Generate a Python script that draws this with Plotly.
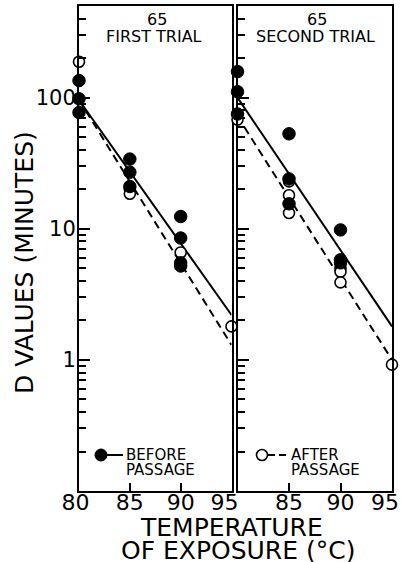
import plotly.graph_objects as go

# ---- data ----
# First trial
t1_before = [80, 80, 80, 85, 85, 85, 90, 90, 90, 90]
d1_before = [135, 98, 77, 34, 27, 21, 12.4, 8.5, 5.5, 5.2]
t1_after = [80, 85, 85, 90, 95]
d1_after = [188, 20, 18.5, 6.6, 1.8]
# Second trial
t2_before = [80, 80, 80, 85, 85, 85, 90, 90, 90]
d2_before = [158, 111, 75, 53, 24, 15.5, 9.8, 5.8, 5.5]
t2_after = [80, 85, 85, 85, 90, 90, 90, 95]
d2_after = [68, 23, 18, 13.2, 5.0, 4.7, 3.9, 0.92]
# Regression lines (endpoints at 80 and 95 C)
fit_t = [80, 95]
fit1_before = [96, 2.2]
fit1_after = [96, 1.3]
fit2_before = [100, 1.8]
fit2_after = [72, 1.0]

y_major = [1, 10, 100]
y_major_text = ["1", "10", "100"]
y_minor = [0.2, 0.3, 0.4, 0.5, 0.6, 0.7, 0.8, 0.9,
           2, 3, 4, 5, 6, 7, 8, 9,
           20, 30, 40, 50, 60, 70, 80, 90,
           200, 300, 400, 500]
x_ticks_left = [80, 85, 90, 95]
x_ticks_left_text = ["80\u00a0", "85", "90", "95\u00a0\u00a0"]
x_ticks_right = [85, 90, 95]
x_ticks_right_text = ["85", "90", "95\u00a0\u00a0"]

W, H = 404, 562
FONT = "DejaVu Sans"


def px(x):
    return x / W


def py(y):
    return 1 - y / H


fig = go.Figure()

solid = dict(color="black", width=2)
dashed = dict(color="black", width=2, dash="8px,5px")
filled_m = dict(size=12.5, color="black", line=dict(color="black", width=1))
open_m = dict(size=11, color="white", line=dict(color="black", width=1.6))

for xa, ya, fb, fa, ta, da, tb, db in [
    ("x", "y", fit1_before, fit1_after, t1_after, d1_after, t1_before, d1_before),
    ("x2", "y2", fit2_before, fit2_after, t2_after, d2_after, t2_before, d2_before),
]:
    fig.add_trace(go.Scatter(x=fit_t, y=fb, mode="lines", line=solid,
                             xaxis=xa, yaxis=ya, showlegend=False, cliponaxis=False))
    fig.add_trace(go.Scatter(x=fit_t, y=fa, mode="lines", line=dashed,
                             xaxis=xa, yaxis=ya, showlegend=False, cliponaxis=False))
    fig.add_trace(go.Scatter(x=ta, y=da, mode="markers", marker=open_m,
                             xaxis=xa, yaxis=ya, showlegend=False, cliponaxis=False))
    fig.add_trace(go.Scatter(x=tb, y=db, mode="markers", marker=filled_m,
                             xaxis=xa, yaxis=ya, showlegend=False, cliponaxis=False))

ydom = [py(491), py(6)]
yax = dict(type="log", range=[-1, 2.69897], domain=ydom, automargin=False,
           tickmode="array", tickvals=y_major, ticktext=y_major_text,
           ticks="inside", ticklen=11, tickwidth=2, tickcolor="black",
           minor=dict(tickmode="array", tickvals=y_minor, ticks="inside",
                      ticklen=7, tickwidth=1.5, tickcolor="black", showgrid=False),
           showgrid=False, zeroline=False, showline=True, mirror=True,
           linecolor="black", linewidth=2, ticklabelstandoff=-3,
           tickfont=dict(family=FONT, size=21, color="black"))
xax = dict(range=[80, 95], tickmode="array", automargin=False,
           ticks="inside", ticklen=8, tickwidth=2, tickcolor="black",
           showgrid=False, zeroline=False, showline=True, mirror=True,
           linecolor="black", linewidth=2,
           ticklabelstandoff=-9, ticklabeloverflow="allow",
           tickfont=dict(family=FONT, size=22, color="black"))

fig.update_layout(
    width=W, height=H,
    margin=dict(l=0, r=0, t=0, b=0),
    paper_bgcolor="white", plot_bgcolor="white",
    showlegend=False,
    xaxis=dict(xax, domain=[px(79), px(231.5)], anchor="y",
               tickvals=x_ticks_left, ticktext=x_ticks_left_text),
    xaxis2=dict(xax, domain=[px(237.5), px(392)], anchor="y2",
                tickvals=x_ticks_right, ticktext=x_ticks_right_text),
    yaxis=dict(yax, anchor="x"),
    yaxis2=dict(yax, anchor="x2", showticklabels=False),
)

ann = []


def text(x, y, s, size, xanchor="center", angle=0):
    ann.append(dict(x=px(x), y=py(y), xref="paper", yref="paper", text=s,
                    showarrow=False, xanchor=xanchor, yanchor="middle",
                    textangle=angle,
                    font=dict(family=FONT, size=size, color="black")))


text(157, 20, "65", 16)
text(154, 36, "FIRST TRIAL", 16)
text(317, 20, "65", 16)
text(315, 36, "SECOND TRIAL", 16)
text(124, 455, "BEFORE", 15, xanchor="left")
text(124, 470, "PASSAGE", 15, xanchor="left")
text(289, 455, "AFTER", 15, xanchor="left")
text(289, 470, "PASSAGE", 15, xanchor="left")
text(232, 527, "TEMPERATURE", 25)
text(238, 550, "OF EXPOSURE (°C)", 25)
text(24, 263, "D VALUES (MINUTES)", 25, angle=-90)
fig.update_layout(annotations=ann)

shapes = [
    dict(type="line", xref="paper", yref="paper", x0=px(107), x1=px(123),
         y0=py(455), y1=py(455), line=dict(color="black", width=2)),
    dict(type="circle", xref="paper", yref="paper", xsizemode="pixel", ysizemode="pixel",
         xanchor=px(101), yanchor=py(455), x0=-6, x1=6, y0=-6, y1=6,
         fillcolor="black", line=dict(color="black", width=1)),
    dict(type="line", xref="paper", yref="paper", x0=px(268), x1=px(288),
         y0=py(455), y1=py(455), line=dict(color="black", width=2, dash="7px,4px")),
    dict(type="circle", xref="paper", yref="paper", xsizemode="pixel", ysizemode="pixel",
         xanchor=px(262), yanchor=py(455), x0=-5.5, x1=5.5, y0=-5.5, y1=5.5,
         fillcolor="white", line=dict(color="black", width=1.6)),
]
fig.update_layout(shapes=shapes)

# the page's default 8px body margin would shift the whole figure
fig.write_html("out.html", config={"displayModeBar": False},
               post_script="document.body.style.margin='0px';")
